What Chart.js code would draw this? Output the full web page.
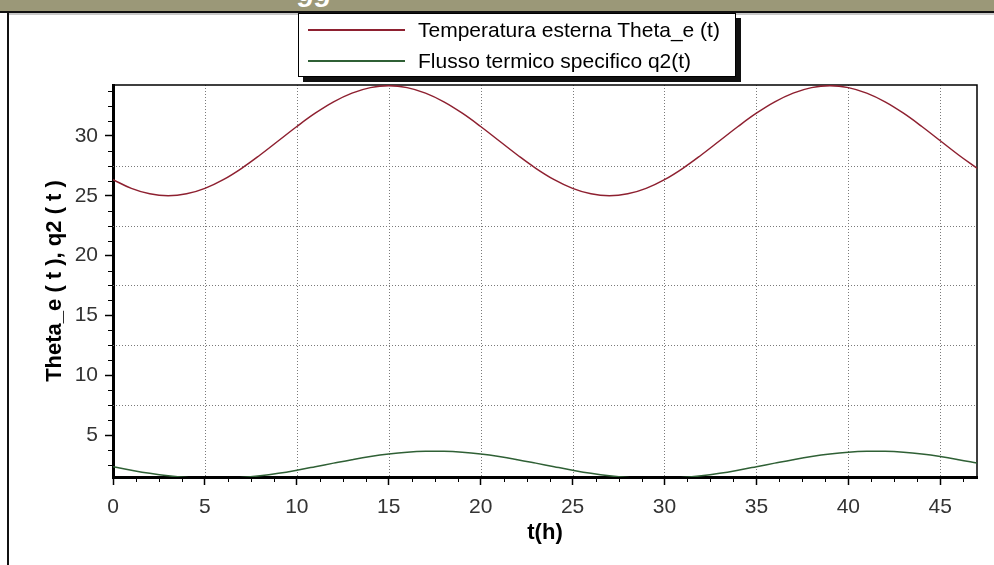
<!DOCTYPE html>
<html>
<head>
<meta charset="utf-8">
<script src="https://cdn.jsdelivr.net/npm/chart.js@4"></script>
<style>
  body { margin: 0; width: 994px; height: 565px; background: #fff; overflow: hidden; position: relative; font-family: 'Liberation Sans', Arial, sans-serif; }
  .banner { position: absolute; left: 0; top: 0; width: 994px; height: 11px; background: #9b9878; overflow: hidden; }
  .banner span { position: absolute; left: 298px; top: -24px; color: #fff; font: italic bold 28px 'Liberation Sans', Arial, sans-serif; }
  .rule { position: absolute; left: 0; top: 11px; width: 994px; height: 2px; background: #111; }
  .rule2 { position: absolute; left: 9px; top: 13px; width: 985px; height: 2px; background: #c8c8c8; }
  .frame { position: absolute; left: 7px; top: 13px; width: 2px; height: 552px; background: #111; }
  #chart-wrap { position: absolute; left: 0; top: 0; width: 994px; height: 565px; }
  #legend { position: absolute; left: 298px; top: 13px; width: 436px; height: 62px; border: 1px solid #000; background: #fff; box-shadow: 5px 5px 0 #111; z-index: 2; }
</style>
</head>
<body>
<div class="banner"><span>gg</span></div>
<div class="rule"></div>
<div class="rule2"></div>
<div class="frame"></div>
<div id="chart-wrap"><canvas id="chart"></canvas></div>
<div id="legend"></div>
<script>
const hours = [0, 1, 2, 3, 4, 5, 6, 7, 8, 9, 10, 11, 12, 13, 14, 15, 16, 17, 18, 19, 20, 21, 22, 23,
               24, 25, 26, 27, 28, 29, 30, 31, 32, 33, 34, 35, 36, 37, 38, 39, 40, 41, 42, 43, 44, 45, 46, 47];
const thetaE = [26.35, 25.62, 25.16, 25.0, 25.16, 25.62, 26.35, 27.3, 28.41, 29.6, 30.79, 31.9,
                32.85, 33.58, 34.04, 34.2, 34.04, 33.58, 32.85, 31.9, 30.79, 29.6, 28.41, 27.3,
                26.35, 25.62, 25.16, 25.0, 25.16, 25.62, 26.35, 27.3, 28.41, 29.6, 30.79, 31.9,
                32.85, 33.58, 34.04, 34.2, 34.04, 33.58, 32.85, 31.9, 30.79, 29.6, 28.41, 27.3];
const q2 = [2.35, 2.06, 1.80, 1.59, 1.44, 1.36, 1.36, 1.44, 1.59, 1.80, 2.06, 2.35,
            2.65, 2.94, 3.20, 3.41, 3.56, 3.64, 3.64, 3.56, 3.41, 3.20, 2.94, 2.65,
            2.35, 2.06, 1.80, 1.59, 1.44, 1.36, 1.36, 1.44, 1.59, 1.80, 2.06, 2.35,
            2.65, 2.94, 3.20, 3.41, 3.56, 3.64, 3.64, 3.56, 3.41, 3.20, 2.94, 2.65];
const seriesNames = ['Temperatura esterna Theta_e (t)', 'Flusso termico specifico q2(t)'];
const seriesColors = ['#8e2030', '#2f6035'];
const xGridLines = [5, 10, 15, 20, 25, 30, 35, 40, 45];
const yGridLines = [7.5, 12.5, 17.5, 22.5, 27.5];

// dotted grid, minor ticks and the thin top/right frame of the plot
const plotFrame = {
    id: 'plotFrame',
    beforeDatasetsDraw(chart) {
        const {ctx, chartArea: a, scales: {x, y}} = chart;
        ctx.save();
        ctx.strokeStyle = '#7a7a7a';
        ctx.lineWidth = 1;
        ctx.setLineDash([1, 2]);
        ctx.beginPath();
        xGridLines.forEach(v => {
            const px = Math.round(x.getPixelForValue(v)) + 0.5;
            ctx.moveTo(px, a.top);
            ctx.lineTo(px, a.bottom);
        });
        yGridLines.forEach(v => {
            const py = Math.round(y.getPixelForValue(v)) + 0.5;
            ctx.moveTo(a.left, py);
            ctx.lineTo(a.right, py);
        });
        ctx.stroke();
        ctx.setLineDash([]);

        ctx.strokeStyle = '#000';
        ctx.beginPath();
        for (let v = 1.25; v < x.max; v += 1.25) {
            if (v % 5 === 0) continue;
            const px = Math.round(x.getPixelForValue(v)) + 0.5;
            ctx.moveTo(px, a.bottom);
            ctx.lineTo(px, a.bottom + 5);
        }
        for (let v = Math.ceil(y.min / 1.25) * 1.25; v < y.max; v += 1.25) {
            if (v % 5 === 0) continue;
            const py = Math.round(y.getPixelForValue(v)) + 0.5;
            ctx.moveTo(a.left, py);
            ctx.lineTo(a.left - 5, py);
        }
        ctx.stroke();

        ctx.lineWidth = 1.5;
        ctx.beginPath();
        ctx.moveTo(a.left, a.top);
        ctx.lineTo(a.right, a.top);
        ctx.lineTo(a.right, a.bottom);
        ctx.stroke();
        ctx.restore();
    }
};

const tickFont = { family: "'Liberation Sans', Arial, sans-serif", size: 21 };
const titleFont = { family: "'Liberation Sans', Arial, sans-serif", size: 22, weight: 'bold' };

const chart = new Chart(document.getElementById('chart'), {
    type: 'line',
    data: {
        datasets: [
            {
                label: seriesNames[0],
                data: hours.map((h, i) => ({ x: h, y: thetaE[i] })),
                borderColor: seriesColors[0],
                borderWidth: 1.5,
                pointRadius: 0,
                tension: 0.4,
                fill: false
            },
            {
                label: seriesNames[1],
                data: hours.map((h, i) => ({ x: h, y: q2[i] })),
                borderColor: seriesColors[1],
                borderWidth: 1.5,
                pointRadius: 0,
                tension: 0.4,
                fill: false
            }
        ]
    },
    options: {
        responsive: true,
        maintainAspectRatio: false,
        animation: false,
        layout: {
            padding: { top: 85, right: 17, left: 0, bottom: 0 }
        },
        scales: {
            x: {
                type: 'linear',
                min: 0,
                max: 47,
                afterFit: s => { s.height = 88; },
                ticks: {
                    stepSize: 5,
                    includeBounds: false,
                    maxRotation: 0,
                    padding: 10,
                    color: '#333',
                    font: tickFont
                },
                grid: {
                    drawOnChartArea: false,
                    drawTicks: true,
                    tickLength: 8,
                    tickColor: '#000',
                    tickWidth: 1.5
                },
                border: { display: true, color: '#000', width: 3 },
                title: {
                    display: true,
                    text: 't(h)',
                    color: '#000',
                    font: titleFont,
                    padding: { top: 0, bottom: 19 }
                }
            },
            y: {
                min: 1.49,
                max: 34.26,
                afterFit: s => { s.width = 113; },
                ticks: {
                    stepSize: 5,
                    includeBounds: false,
                    padding: 7,
                    color: '#333',
                    font: tickFont
                },
                grid: {
                    drawOnChartArea: false,
                    drawTicks: true,
                    tickLength: 8,
                    tickColor: '#000',
                    tickWidth: 1.5
                },
                border: { display: true, color: '#000', width: 3 },
                title: {
                    display: true,
                    text: 'Theta_e ( t ), q2 ( t )',
                    color: '#000',
                    font: titleFont,
                    padding: { top: 42, bottom: 0 }
                }
            }
        },
        plugins: {
            legend: { display: false },
            tooltip: { enabled: false }
        }
    },
    plugins: [plotFrame]
});

function createLegend() {
    const legend = document.getElementById('legend');
    chart.data.datasets.forEach(ds => {
        const row = document.createElement('div');
        row.style.display = 'flex';
        row.style.alignItems = 'center';
        row.style.height = '31px';
        row.style.paddingLeft = '9px';

        const line = document.createElement('div');
        line.style.width = '97px';
        line.style.height = '2px';
        line.style.background = ds.borderColor;
        line.style.marginRight = '13px';

        const text = document.createElement('span');
        text.innerText = ds.label;
        text.style.fontSize = '21px';
        text.style.color = '#000';
        text.style.whiteSpace = 'nowrap';

        row.append(line, text);
        legend.append(row);
    });
}
createLegend();
</script>
</body>
</html>
